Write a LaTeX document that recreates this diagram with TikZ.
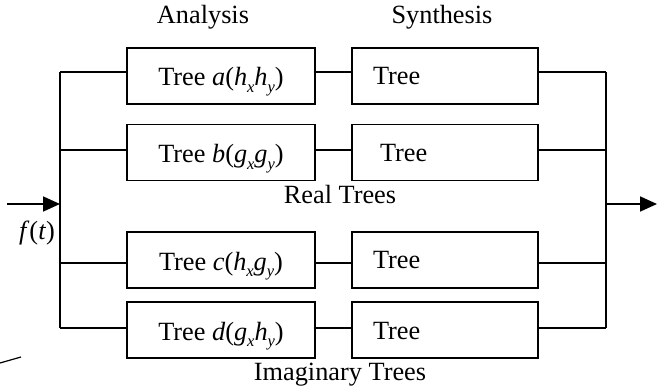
\documentclass[tikz,border=0pt]{standalone}
\usepackage{fontspec}
\setmainfont{Liberation Serif}
\usetikzlibrary{arrows.meta}
\newcommand\lo[1]{\raisebox{-0.26em}[0pt][0pt]{\fontsize{16.5}{16.5}\selectfont\itshape #1}}
\begin{document}
\begin{tikzpicture}[x=1pt,y=-1pt,
  every node/.style={font=\fontsize{26.3}{30}\selectfont},
  anabox/.style={draw,line width=1.8pt,minimum width=188pt,minimum height=56pt,inner sep=0pt,
    text height=20pt,text depth=0pt},
  synbox/.style={draw,line width=1.8pt,minimum width=186pt,minimum height=56pt,inner sep=0pt,
    text width=186pt,align=left,text height=18pt,text depth=0pt},
  wire/.style={line width=1.5pt},
  bus/.style={line width=1.8pt},
  flow/.style={line width=1.8pt,-{Triangle[length=17pt,width=15pt]}}]
\useasboundingbox (0,0) rectangle (658,387);

% column headings
\node (hA) at (203,17) {Analysis};
\node (hS) at (442,17) {Synthesis};

% analysis trees
\node[anabox] (a) at (221,76)    {Tree \textit{a}(\textit{h}\lo{x}\textit{h}\lo{y})};
\node[anabox] (b) at (221,152.5) {Tree \textit{b}(\textit{g}\lo{x}\textit{g}\lo{y})};
\node[anabox] (c) at (221,260)   {Tree \textit{c}(\textit{h}\lo{x}\textit{g}\lo{y})};
\node[anabox] (d) at (221,330)   {Tree \textit{d}(\textit{g}\lo{x}\textit{h}\lo{y})};

% synthesis trees
\node[synbox] (A) at (445,76)    {\hspace*{21pt}Tree};
\node[synbox] (B) at (445,152.5) {\hspace*{28pt}Tree};
\node[synbox] (C) at (445,260)   {\hspace*{21pt}Tree};
\node[synbox] (D) at (445,330)   {\hspace*{21pt}Tree};

% group labels
\node (real) at (340,195) {Real Trees};
\node (imag) at (340,375) {Imaginary Trees};

% wire levels on the input and output buses
\coordinate (la) at (60,72);
\coordinate (lb) at (60,150);
\coordinate (lc) at (60,263);
\coordinate (ld) at (60,328);
\coordinate (ra) at (606,72);
\coordinate (rb) at (606,150);
\coordinate (rc) at (606,263);
\coordinate (rd) at (606,328);
\coordinate (in) at (7,204);
\coordinate (ljoin) at (60,204);
\coordinate (rjoin) at (606,204);
\coordinate (out) at (657,204);

% buses
\draw[bus] (la) -- (ld);
\draw[bus] (ra) -- (rd);

% input and output
\draw[flow] (in) -- (ljoin);
\draw[flow] (rjoin) -- (out);
\node (ft) at (37,233) {\textit{f}(\textit{t})};

% branches
\foreach \l/\p/\q/\r in {la/a/A/ra, lb/b/B/rb, lc/c/C/rc, ld/d/D/rd}{
  \draw[wire] (\l) -- (\p.west |- \l);
  \draw[wire] (\p.east |- \l) -- (\q.west |- \l);
  \draw[wire] (\q.east |- \l) -- (\r);
}

% short stroke at the lower left
\coordinate (s1) at (0,363);
\coordinate (s2) at (21,357);
\draw[line width=1.2pt] (s1) -- (s2);
\end{tikzpicture}
\end{document}
